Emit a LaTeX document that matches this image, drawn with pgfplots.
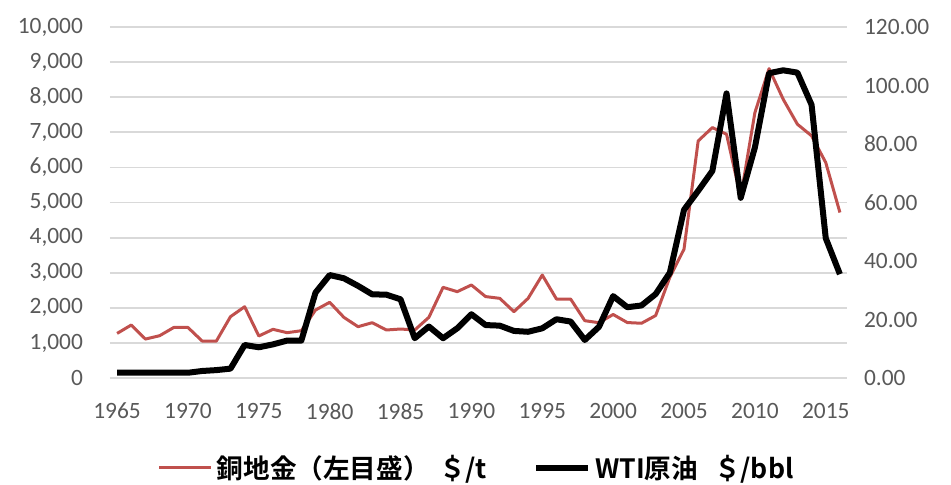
\documentclass[border=0pt]{standalone}
\usepackage{pgfplots}
\pgfplotsset{compat=1.18}
\usepackage{fontspec}
\setmainfont{Carlito}
\newfontfamily\cjk{Noto Sans CJK JP}[BoldFont={Noto Sans CJK JP Bold}]
\definecolor{copper}{HTML}{C0504D}
\definecolor{gridgray}{HTML}{D9D9D9}
\definecolor{labgray}{HTML}{595959}

\pgfplotstableread{
year copper
1965 1270
1966 1510
1967 1110
1968 1205
1969 1440
1970 1440
1971 1054
1972 1050
1973 1747
1974 2031
1975 1197
1976 1387
1977 1291
1978 1348
1979 1937
1980 2157
1981 1729
1982 1462
1983 1576
1984 1368
1985 1396
1986 1368
1987 1729
1988 2583
1989 2460
1990 2650
1991 2320
1992 2270
1993 1890
1994 2270
1995 2934
1996 2250
1997 2250
1998 1633
1999 1576
2000 1810
2001 1580
2002 1560
2003 1780
2004 2870
2005 3672
2006 6755
2007 7135
2008 6945
2009 5150
2010 7560
2011 8814
2012 7940
2013 7230
2014 6900
2015 6138
2016 4715
}\coppertable

\pgfplotstableread{
year wti
1965 1.8
1966 1.8
1967 1.8
1968 1.8
1969 1.8
1970 1.8
1971 2.4
1972 2.7
1973 3.2
1974 11.3
1975 10.5
1976 11.5
1977 12.8
1978 12.8
1979 29.2
1980 35.2
1981 34.1
1982 31.5
1983 28.6
1984 28.5
1985 26.9
1986 13.6
1987 17.6
1988 13.6
1989 17.0
1990 21.8
1991 18.1
1992 17.9
1993 16.1
1994 15.8
1995 17.0
1996 20.1
1997 19.3
1998 13.0
1999 17.5
2000 28.0
2001 24.2
2002 24.8
2003 28.7
2004 36.0
2005 57.5
2006 64.0
2007 70.8
2008 97.3
2009 61.6
2010 78.8
2011 104.2
2012 105.2
2013 104.4
2014 93.4
2015 47.8
2016 35.5
}\wtitable

\begin{document}
\begin{tikzpicture}
\path[use as bounding box] (-55pt,-53pt) rectangle (420.5pt,189pt);
\pgfplotsset{
  common/.style={
    scale only axis,
    width=368.5pt, height=175.5pt,
    at={(0pt,0pt)}, anchor=south west,
    xmin=1964.5, xmax=2016.5,
    ymin=0,
    scaled ticks=false,
    major tick length=0pt,
    axis line style={draw=none},
    tick label style={font=\fontsize{11.7}{13}\selectfont, text=labgray},
    /pgf/number format/assume math mode=true,
  }
}
\begin{axis}[
  common,
  ymax=10000,
  ytick={0,1000,...,10000},
  xtick={1965,1970,...,2015},
  ymajorgrids,
  grid style={color=gridgray, line width=0.9pt},
  x tick label style={/pgf/number format/1000 sep={}, yshift=-9pt},
  y tick label style={/pgf/number format/1000 sep={,}, xshift=-10pt},
  legend style={at={(0.499,-0.256)}, anchor=center, draw=none, fill=none,
    font=\cjk\bfseries\fontsize{13.3}{15}\selectfont,
    /tikz/every even column/.append style={column sep=21pt},
    inner sep=0pt},
  legend columns=2,
  legend image code/.code={\draw[#1] (0pt,0pt) -- (26pt,0pt);},
]
\addplot[copper, line width=1.5pt, line join=round] table[x=year, y=copper] {\coppertable};
\addlegendentry{銅地金（左目盛）\hspace{0.35em}＄/t}
\addlegendimage{black, line width=3pt}
\addlegendentry{WTI原油\hspace{0.6em}＄/bbl}
\end{axis}
\begin{axis}[
  common,
  ymax=120,
  ytick={0,20,...,120},
  axis x line=none,
  axis y line*=right,
  y tick label style={/pgf/number format/.cd, fixed, fixed zerofill, precision=2, /tikz/.cd, xshift=5pt},
]
\addplot[black, line width=3pt, line join=round] table[x=year, y=wti] {\wtitable};
\end{axis}
\end{tikzpicture}
\end{document}
